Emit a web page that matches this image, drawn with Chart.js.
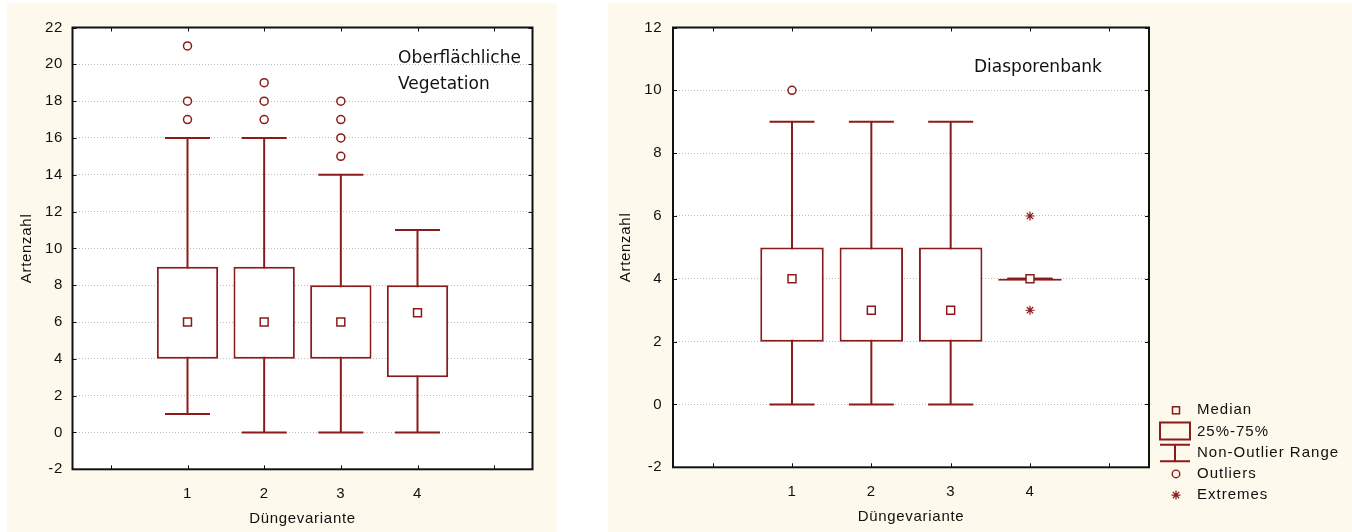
<!DOCTYPE html>
<html>
<head>
<meta charset="utf-8">
<script src="https://cdn.jsdelivr.net/npm/chart.js@4.4.1/dist/chart.umd.min.js"></script>
<style>
  body { margin: 0; background: #fff; width: 1352px; height: 532px; position: relative; overflow: hidden; }
  .panel { position: absolute; top: 3px; height: 529px; background: #fdf9ed; }
  #left { left: 7px; width: 550px; }
  #right { left: 608px; width: 744px; }
  canvas { display: block; }
</style>
</head>
<body>
<div class="panel" id="left"><canvas id="vegChart" width="550" height="529"></canvas></div>
<div class="panel" id="right"><canvas id="bankChart" width="744" height="529"></canvas></div>
<script>
// Düngevariante groups and x tick positions
const groups = [1, 2, 3, 4];
const xTicks = [0, 1, 2, 3, 4, 5];

// Oberflächliche Vegetation
const vegMin = [1, 0, 0, 0];
const vegQ1 = [4, 4, 4, 3];
const vegMedian = [6, 6, 6, 6.5];
const vegQ3 = [9, 9, 8, 8];
const vegMax = [16, 16, 14, 11];
const vegOutliers = [[17, 18, 21], [17, 18, 19], [15, 16, 17, 18], []];
const vegExtremes = [[], [], [], []];

// Diasporenbank
const bankMin = [0, 0, 0, 4];
const bankQ1 = [2, 2, 2, 4];
const bankMedian = [4, 3, 3, 4];
const bankQ3 = [5, 5, 5, 4];
const bankMax = [9, 9, 9, 4];
const bankOutliers = [[10], [], [], []];
const bankExtremes = [[], [], [], [3, 6]];

const legendItems = ['Median', '25%-75%', 'Non-Outlier Range', 'Outliers', 'Extremes'];

const dark = '#8c1a1a';
const ink = '#111';
Chart.defaults.font.family = "'Liberation Sans', Arial, sans-serif";
Chart.defaults.font.size = 15;
Chart.defaults.color = ink;

// white plot area, black frame and short inward tick marks
const plotFrame = {
  id: 'plotFrame',
  beforeDraw(chart) {
    const { ctx, chartArea: a } = chart;
    ctx.letterSpacing = '0.7px';
    ctx.save();
    ctx.fillStyle = '#fff';
    ctx.fillRect(a.left, a.top, a.right - a.left, a.bottom - a.top);
    ctx.restore();
  },
  afterDatasetsDraw(chart) {
    const { ctx, chartArea: a, scales } = chart;
    ctx.save();
    ctx.strokeStyle = ink;
    ctx.lineWidth = 1;
    ctx.beginPath();
    scales.x.ticks.forEach(t => {
      const px = Math.round(scales.x.getPixelForValue(t.value)) + 0.5;
      ctx.moveTo(px, a.top); ctx.lineTo(px, a.top + 4);
      ctx.moveTo(px, a.bottom); ctx.lineTo(px, a.bottom - 4);
    });
    scales.y.ticks.forEach(t => {
      const py = Math.round(scales.y.getPixelForValue(t.value)) + 0.5;
      ctx.moveTo(a.left, py); ctx.lineTo(a.left + 4, py);
      ctx.moveTo(a.right, py); ctx.lineTo(a.right - 4, py);
    });
    ctx.stroke();
    ctx.lineWidth = 2;
    ctx.strokeRect(a.left, a.top, a.right - a.left, a.bottom - a.top);
    ctx.restore();
  }
};

// panel caption inside the plot area
const panelTitle = {
  id: 'panelTitle',
  afterDatasetsDraw(chart, args, opts) {
    const { ctx, chartArea: a } = chart;
    ctx.save();
    ctx.letterSpacing = '0px';
    ctx.font = '17px "DejaVu Sans"';
    ctx.fillStyle = ink;
    ctx.textBaseline = 'middle';
    opts.lines.forEach((line, i) => ctx.fillText(line, a.left + opts.dx, a.top + opts.dy + i * 26));
    ctx.restore();
  }
};

// key for the box plot symbols, right of the Diasporenbank plot
const boxLegend = {
  id: 'boxLegend',
  afterDraw(chart, args, opts) {
    const { ctx, chartArea: a } = chart;
    const ix = a.right + 27;
    const tx = a.right + 48;
    const rows = opts.items.map((t, i) => a.bottom - 57 + i * 21.2);
    ctx.save();
    ctx.letterSpacing = '1px';
    ctx.font = "15px 'Liberation Sans'";
    ctx.fillStyle = ink;
    ctx.textBaseline = 'middle';
    opts.items.forEach((t, i) => ctx.fillText(t, tx, rows[i]));

    ctx.strokeStyle = dark;
    ctx.lineWidth = 1.5;
    ctx.strokeRect(ix - 3.5, rows[0] - 3.5, 7, 7);

    ctx.lineWidth = 2;
    ctx.strokeRect(ix - 16, rows[1] - 9, 30, 17);

    ctx.beginPath();
    ctx.moveTo(ix - 16, rows[2] - 8); ctx.lineTo(ix + 14, rows[2] - 8);
    ctx.moveTo(ix - 16, rows[2] + 8.5); ctx.lineTo(ix + 14, rows[2] + 8.5);
    ctx.moveTo(ix - 1, rows[2] - 8); ctx.lineTo(ix - 1, rows[2] + 8.5);
    ctx.stroke();

    ctx.lineWidth = 1.4;
    ctx.beginPath();
    ctx.arc(ix, rows[3], 3.8, 0, Math.PI * 2);
    ctx.stroke();

    ctx.lineWidth = 1.2;
    ctx.beginPath();
    for (let k = 0; k < 4; k++) {
      const ang = k * Math.PI / 4;
      ctx.moveTo(ix - 4.5 * Math.cos(ang), rows[4] - 4.5 * Math.sin(ang));
      ctx.lineTo(ix + 4.5 * Math.cos(ang), rows[4] + 4.5 * Math.sin(ang));
    }
    ctx.stroke();
    ctx.restore();
  }
};

function boxChart(id, s) {
  const stems = [], caps = [], boxes = [], medians = [], outliers = [], extremes = [];
  groups.forEach((g, i) => {
    stems.push({ x: g, y: s.min[i] }, { x: g, y: s.max[i] }, { x: g, y: null });
    caps.push({ x: g, y: s.min[i] }, { x: g, y: s.max[i] });
    boxes.push({ x: g, y: [s.q1[i], s.q3[i]] });
    medians.push({ x: g, y: s.median[i] });
    s.outliers[i].forEach(v => outliers.push({ x: g, y: v }));
    s.extremes[i].forEach(v => extremes.push({ x: g, y: v }));
  });

  const plugins = [plotFrame, panelTitle];
  if (s.legend) plugins.push(boxLegend);

  return new Chart(document.getElementById(id), {
    type: 'bar',
    data: {
      datasets: [
        { type: 'scatter', label: 'Median', data: medians, pointStyle: 'rect', pointRadius: 5.6,
          borderColor: dark, backgroundColor: '#fff', borderWidth: 1.5, order: 0 },
        { type: 'scatter', label: 'Outliers', data: outliers, pointStyle: 'circle', pointRadius: 4,
          borderColor: dark, backgroundColor: '#fff', borderWidth: 1.5, order: 0 },
        { type: 'scatter', label: 'Extremes', data: extremes, pointStyle: 'star', pointRadius: 4.5,
          borderColor: dark, borderWidth: 1.2, order: 0 },
        { type: 'bar', label: '25%-75%', data: boxes, backgroundColor: '#fff', borderColor: dark,
          borderWidth: 2, borderSkipped: false, minBarLength: 2,
          categoryPercentage: 0.8, barPercentage: 1, order: 1 },
        { type: 'scatter', label: 'Caps', data: caps, pointStyle: 'line', pointRadius: 22.5,
          borderColor: dark, borderWidth: 2, order: 2 },
        { type: 'line', label: 'Non-Outlier Range', data: stems, borderColor: dark, borderWidth: 2,
          pointRadius: 0, spanGaps: false, order: 3 }
      ]
    },
    options: {
      responsive: false,
      animation: false,
      events: [],
      layout: { padding: { left: 0, top: s.padTop, right: s.padRight, bottom: 0 } },
      plugins: {
        legend: { display: false },
        tooltip: { enabled: false },
        panelTitle: s.title,
        boxLegend: { items: legendItems }
      },
      scales: {
        x: {
          type: 'linear',
          min: -0.5,
          max: 5.5,
          offset: false,
          afterBuildTicks: sc => { sc.ticks = xTicks.map(v => ({ value: v })); },
          afterFit: sc => { sc.height = s.xAxisHeight; },
          grid: { display: false, offset: false },
          border: { display: false },
          ticks: {
            padding: s.xTickPad,
            autoSkip: false,
            maxRotation: 0,
            callback: v => groups.includes(v) ? String(v) : ''
          },
          title: { display: true, text: 'Düngevariante', padding: { top: 0, bottom: s.xTitlePad } }
        },
        y: {
          min: -2,
          max: s.yMax,
          afterFit: sc => { sc.width = s.yAxisWidth; },
          grid: { color: '#bdbdbd', drawTicks: false, lineWidth: 1 },
          border: { display: false, dash: [1, 2] },
          ticks: { stepSize: 2, padding: s.yTickPad },
          title: { display: true, text: 'Artenzahl', padding: { top: s.yTitlePad, bottom: 0 } }
        }
      }
    },
    plugins: plugins
  });
}

const vegChart = boxChart('vegChart', {
  min: vegMin, q1: vegQ1, median: vegMedian, q3: vegQ3, max: vegMax,
  outliers: vegOutliers, extremes: vegExtremes,
  yMax: 22,
  padTop: 14.6, padRight: 7.5,
  yAxisWidth: 65.5, xAxisHeight: 62.7,
  yTickPad: 9.5, xTickPad: 8, xTitlePad: 4.5, yTitlePad: 11,
  title: { lines: ['Oberflächliche', 'Vegetation'], dx: 325.5, dy: 31.4 },
  legend: false
});

const bankChart = boxChart('bankChart', {
  min: bankMin, q1: bankQ1, median: bankMedian, q3: bankQ3, max: bankMax,
  outliers: bankOutliers, extremes: bankExtremes,
  yMax: 12,
  padTop: 13.3, padRight: 203,
  yAxisWidth: 65, xAxisHeight: 64.7,
  yTickPad: 10.6, xTickPad: 7.7, xTitlePad: 6.4, yTitlePad: 9,
  title: { lines: ['Diasporenbank'], dx: 301, dy: 39.7 },
  legend: true
});
</script>
</body>
</html>
